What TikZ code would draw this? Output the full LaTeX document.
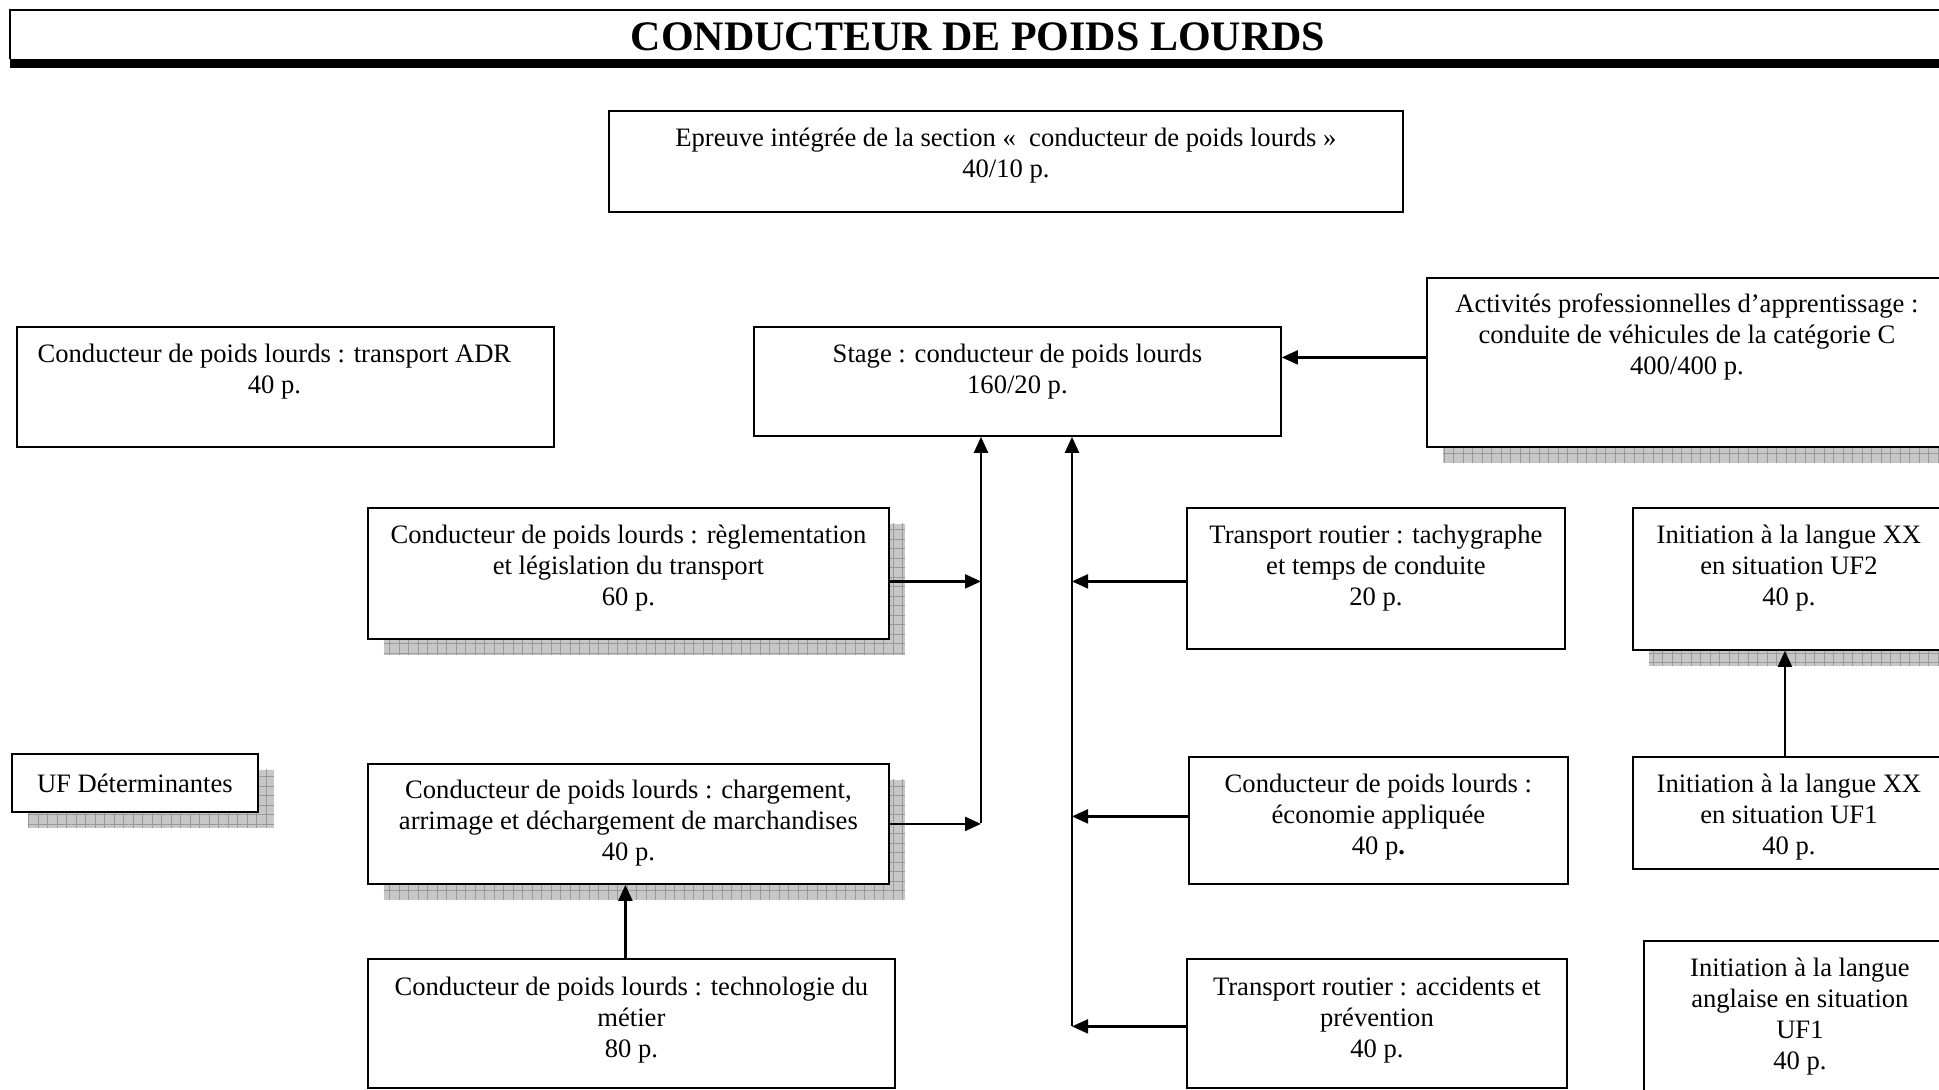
\documentclass[tikz,border=0pt]{standalone}
\usepackage{fontspec}
\setmainfont{Liberation Serif}
\usetikzlibrary{positioning,arrows.meta,patterns.meta}

\begin{document}
\begin{tikzpicture}[x=1pt, y=-1pt, >={Triangle[length=16pt,width=14pt]},
	box/.style={draw, line width=1.8pt, fill=white, inner sep=0pt, anchor=north west},
	sbox/.style={box,
		preaction={fill=black!22, draw=none, transform canvas={shift={(16pt,-16pt)}}},
		preaction={pattern={Hatch[angle=0, distance=9.5pt, line width=0.8pt]}, pattern color=black!40, draw=none, transform canvas={shift={(16pt,-16pt)}}}},
	txt/.style={align=center, inner sep=0pt, font=\fontsize{26.6}{31}\selectfont},
	link/.style={->, line width=2.2pt}]
	\useasboundingbox (0,0) rectangle (1939,1090);
	% titre
	\fill (10,59) rectangle (1950,68);
	\draw[line width=2pt] (10,59) -- (10,10) -- (1950,10);
	\node[font=\fontsize{42}{48}\selectfont\bfseries] (titre) at (978,37) {CONDUCTEUR DE POIDS LOURDS};
	% cadres
	\node[box, minimum width=794pt, minimum height=101pt] (epreuve) at (608,110) {};
	\node[txt, below=18pt of epreuve.north] (epreuve-t) {Epreuve intégrée de la section «~ conducteur de poids lourds »\\40/10 p.};
	\node[box, minimum width=537pt, minimum height=120pt] (adr) at (16,326) {};
	\node[txt, below=18pt of adr.north, xshift=-11pt] (adr-t) {Conducteur de poids lourds : transport ADR\\40 p.};
	\node[box, minimum width=527pt, minimum height=109pt] (stage) at (753,326) {};
	\node[txt, below=18pt of stage.north] (stage-t) {Stage : conducteur de poids lourds\\160/20 p.};
	\node[sbox, minimum width=520pt, minimum height=169pt] (act) at (1426,277) {};
	\node[txt, below=17pt of act.north] (act-t) {Activités professionnelles d’apprentissage :\\conduite de véhicules de la catégorie C\\400/400 p.};
	\node[sbox, minimum width=521pt, minimum height=131pt] (regl) at (367,507) {};
	\node[txt, below=18pt of regl.north] (regl-t) {Conducteur de poids lourds : règlementation\\et législation du transport\\60 p.};
	\node[box, minimum width=378pt, minimum height=141pt] (tachy) at (1186,507) {};
	\node[txt, below=18pt of tachy.north] (tachy-t) {Transport routier : tachygraphe\\et temps de conduite\\20 p.};
	\node[sbox, minimum width=312pt, minimum height=142pt] (uf2) at (1632,507) {};
	\node[txt, below=18pt of uf2.north] (uf2-t) {Initiation à la langue XX\\en situation UF2\\40 p.};
	\node[sbox, txt, minimum width=246pt, minimum height=58pt, anchor=north west] (ufdet) at (11,753) {UF Déterminantes};
	\node[sbox, minimum width=521pt, minimum height=120pt] (charg) at (367,763) {};
	\node[txt, below=17pt of charg.north] (charg-t) {Conducteur de poids lourds : chargement,\\arrimage et déchargement de marchandises\\40 p.};
	\node[box, minimum width=379pt, minimum height=127pt] (econ) at (1188,756) {};
	\node[txt, below=18pt of econ.north] (econ-t) {Conducteur de poids lourds :\\économie appliquée\\40 p\textbf{.}};
	\node[box, minimum width=312pt, minimum height=112pt] (uf1) at (1632,756) {};
	\node[txt, below=18pt of uf1.north] (uf1-t) {Initiation à la langue XX\\en situation UF1\\40 p.};
	\node[box, minimum width=527pt, minimum height=129pt] (techno) at (367,958) {};
	\node[txt, below=19pt of techno.north] (techno-t) {Conducteur de poids lourds : technologie du\\métier\\80 p.};
	\node[box, minimum width=380pt, minimum height=129pt] (accid) at (1186,958) {};
	\node[txt, below=19pt of accid.north] (accid-t) {Transport routier : accidents et\\prévention\\40 p.};
	\node[box, minimum width=312pt, minimum height=170pt] (angl) at (1643,940) {};
	\node[txt, below=18pt of angl.north] (angl-t) {Initiation à la langue\\anglaise en situation\\UF1\\40 p.};
	% liaisons
	\coordinate (jl) at (981,823);
	\coordinate (jr) at (1072,1026);
	\draw[link] ([yshift=5pt]act.west) -- ([yshift=5pt]act.west -| stage.east);
	\draw[link] (jl) -- (jl |- stage.south);
	\draw[link] (jr) -- (jr |- stage.south);
	\draw[link] ([yshift=-8pt]regl.east) -- ([yshift=-8pt]regl.east -| jl);
	\draw[link] (charg.east) -- (charg.east -| jl);
	\draw[link] ([yshift=-3pt]tachy.west) -- ([yshift=-3pt]tachy.west -| jr);
	\draw[link] ([yshift=4pt]econ.west) -- ([yshift=4pt]econ.west -| jr);
	\draw[link] ([yshift=-3pt]accid.west) -- ([yshift=-3pt]accid.west -| jr);
	\draw[link] ([xshift=-6pt]techno.north) -- ([xshift=-6pt]techno.north |- charg.south);
	\draw[link] ([xshift=-4pt]uf1.north) -- ([xshift=-4pt]uf1.north |- uf2.south);
\end{tikzpicture}
\end{document}
